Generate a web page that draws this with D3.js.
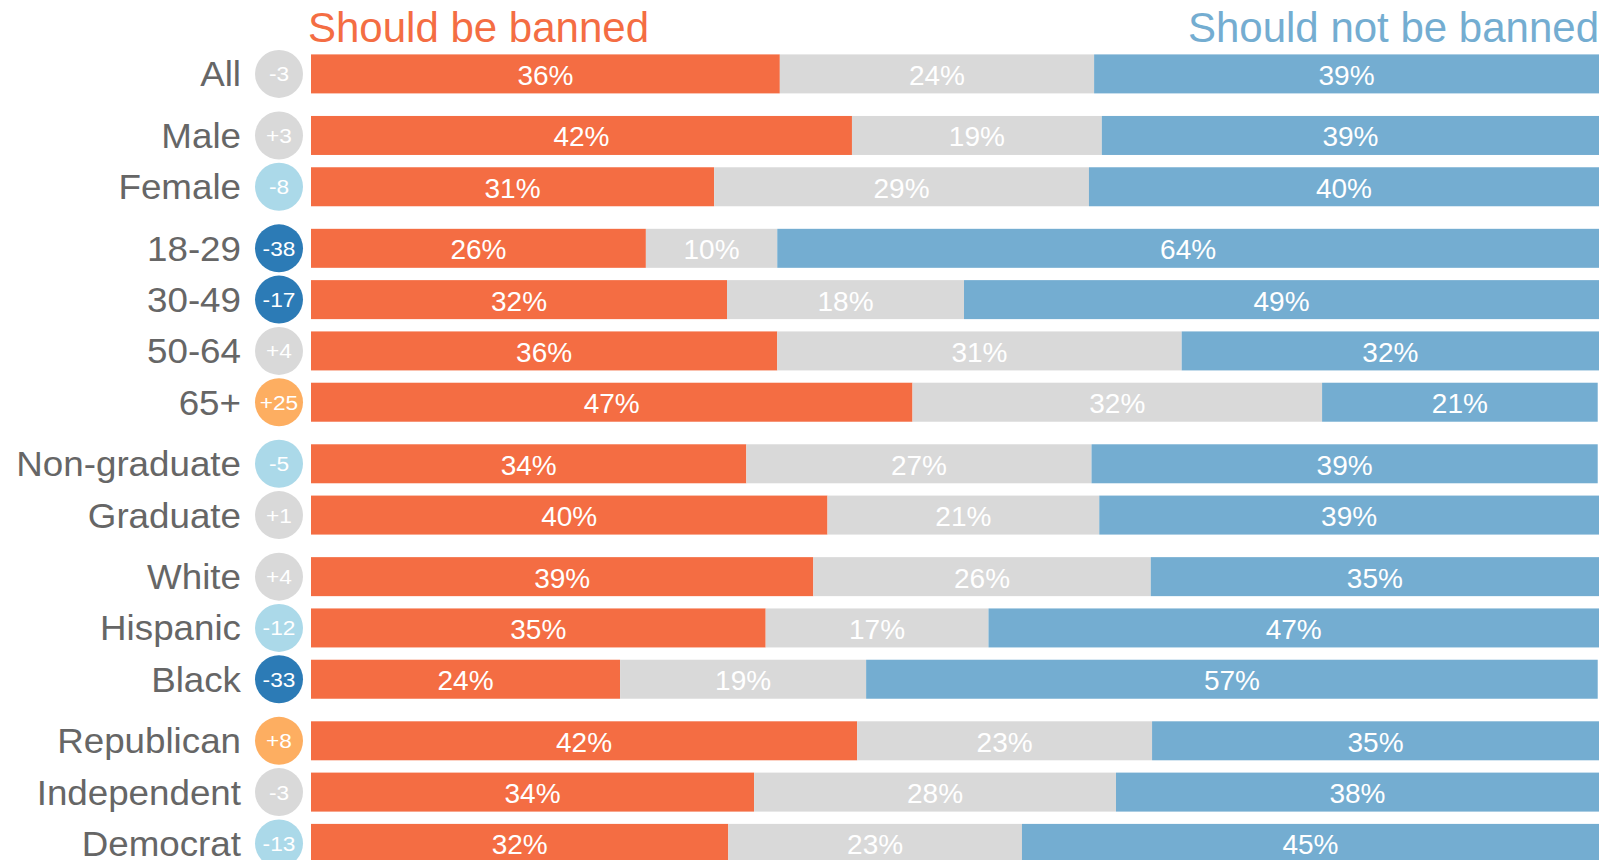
<!DOCTYPE html>
<html>
<head>
<meta charset="utf-8">
<script src="https://cdn.jsdelivr.net/npm/d3@7"></script>
<style>
  html, body { margin: 0; padding: 0; background: #fff; }
  svg { display: block; font-family: "Liberation Sans", Arial, sans-serif; }
</style>
</head>
<body>
<svg id="chart" width="1608" height="860"></svg>
<script>
// ---- data ----
const categories = ["All", "Male", "Female", "18-29", "30-49", "50-64", "65+",
  "Non-graduate", "Graduate", "White", "Hispanic", "Black",
  "Republican", "Independent", "Democrat"];
const groupIndex = [0, 1, 1, 2, 2, 2, 2, 3, 3, 4, 4, 4, 5, 5, 5];
const banned    = [36.4, 42.0, 31.3, 26.0, 32.3, 36.2, 46.7, 33.8, 40.1, 39.0, 35.3, 24.0, 42.4, 34.4, 32.4];
const unsure    = [24.4, 19.4, 29.1, 10.2, 18.4, 31.4, 31.8, 26.8, 21.1, 26.2, 17.3, 19.1, 22.9, 28.1, 22.8];
const notBanned = [39.2, 38.6, 39.6, 63.8, 49.3, 32.4, 21.4, 39.3, 38.8, 34.8, 47.4, 56.8, 34.7, 37.5, 44.8];
const netLabels = ["-3", "+3", "-8", "-38", "-17", "+4", "+25", "-5", "+1", "+4", "-12", "-33", "+8", "-3", "-13"];
const seriesNames = ["Should be banned", "Unsure", "Should not be banned"];

// ---- styles ----
const barColors = ["#f46d43", "#d9d9d9", "#74add1"];
const labelColor = "#666666";

const svg = d3.select("#chart");

const x = d3.scaleLinear().domain([0, 100]).range([311, 1599]);
// slot position: row index plus extra spacing per group
const y = d3.scaleLinear().domain([0, 1]).range([54.4, 105.7]);
const barH = 39;
const slot = i => i + groupIndex[i] * 0.2;

const netColor = d3.scaleThreshold()
  .domain([-15, -4.5, 5])
  .range(["#2c7bb6", "#abd9e9", "#d9d9d9", "#fdae61"]);

const rows = categories.map((c, i) => {
  const vals = [banned[i], unsure[i], notBanned[i]];
  let acc = 0;
  const segs = vals.map((v, k) => { const s = { k, v, x0: acc, x1: acc + v }; acc += v; return s; });
  return { c, i, segs, net: netLabels[i], netVal: +netLabels[i] };
});

const row = svg.selectAll("g.row").data(rows).join("g")
  .attr("class", "row")
  .attr("transform", d => `translate(0,${y(slot(d.i))})`);

row.selectAll("rect").data(d => d.segs).join("rect")
  .attr("x", s => x(s.x0))
  .attr("width", s => x(s.x1) - x(s.x0))
  .attr("y", 0)
  .attr("height", barH)
  .attr("fill", s => barColors[s.k]);

row.selectAll("text.val").data(d => d.segs).join("text")
  .attr("class", "val")
  .attr("x", s => (x(s.x0) + x(s.x1)) / 2)
  .attr("y", barH / 2 + 11)
  .attr("text-anchor", "middle")
  .attr("font-size", 28)
  .attr("fill", "#ffffff")
  .text(s => Math.round(s.v) + "%");

// category labels (slightly stretched horizontally)
row.append("g")
  .attr("transform", `translate(241,${barH / 2 + 12.5}) scale(1.05,1)`)
  .append("text")
  .attr("text-anchor", "end")
  .attr("font-size", 35)
  .attr("fill", labelColor)
  .text(d => d.c);

// net circles
row.append("circle")
  .attr("cx", 279)
  .attr("cy", barH / 2)
  .attr("r", 24)
  .attr("fill", d => netColor(d.netVal));

row.append("g")
  .attr("transform", `translate(279,${barH / 2 + 7.5}) scale(1.08,1)`)
  .append("text")
  .attr("text-anchor", "middle")
  .attr("font-size", 21)
  .attr("fill", "#ffffff")
  .text(d => d.net);

// headers
svg.append("text")
  .attr("x", 308).attr("y", 41.5)
  .attr("font-size", 42)
  .attr("fill", barColors[0])
  .text(seriesNames[0]);

svg.append("text")
  .attr("x", 1599).attr("y", 41.5)
  .attr("text-anchor", "end")
  .attr("font-size", 42)
  .attr("fill", barColors[2])
  .text(seriesNames[2]);
</script>
</body>
</html>
